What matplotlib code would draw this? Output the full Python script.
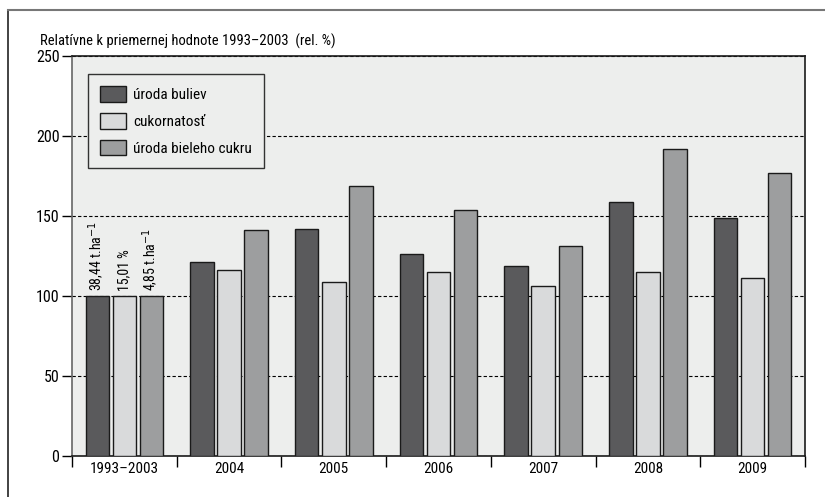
import numpy as np
import matplotlib
matplotlib.use("Agg")
from matplotlib import pyplot as plt
from matplotlib import font_manager
from matplotlib.lines import Line2D
from matplotlib.ticker import FixedLocator

# condensed sans, first one found
installed = set(f.name for f in font_manager.fontManager.ttflist)
wanted = ['Liberation Sans Narrow', 'Arial Narrow', 'Nimbus Sans Narrow', 'Roboto Condensed',
          'Archivo Narrow', 'PT Sans Narrow', 'Pragati Narrow', 'Liberation Sans']
fam = [f for f in wanted if f in installed][:1] + ['DejaVu Sans']
plt.rcParams['font.family'] = fam

years = ['1993\u20132003', '2004', '2005', '2006', '2007', '2008', '2009']
uroda_buliev = [100, 121.5, 142, 126.5, 118.5, 159, 148.5]
cukornatost = [100, 116.5, 109, 115, 106, 115, 111]
uroda_cukru = [100, 141, 169, 154, 131, 192, 177]
base_labels = ['38,44 t.ha$^{-1}$', '15,01 %', '4,85 t.ha$^{-1}$']
series_names = ['úroda buliev', 'cukornatosť', 'úroda bieleho cukru']
colors = ['#5a5a5c', '#d9dadb', '#9d9e9f']

fig = plt.figure(figsize=(8.25, 4.97), dpi=100)
ax = fig.add_axes([72/825, 41/497, 733/825, 400/497])
ax.set_facecolor('#edeeed')

x = np.arange(len(years))
w = 0.224
step = 0.258
bars = []
for i, vals in enumerate([uroda_buliev, cukornatost, uroda_cukru]):
    b = ax.bar(x + (i - 1) * step, vals, w, color=colors[i], edgecolor='#1a1a1a',
               linewidth=1.0, zorder=3, label=series_names[i])
    bars.append(b)

# labels over the base period
for i, txt in enumerate(base_labels):
    r = bars[i][0]
    ax.text(r.get_x() + r.get_width() / 2, r.get_height() + 3, txt, rotation=90,
            ha='center', va='bottom', fontsize=10, zorder=4)

ax.set_xlim(-0.5, len(years) - 0.5)
ax.set_ylim(0, 250)
ax.set_yticks([0, 50, 100, 150, 200, 250])
ax.yaxis.grid(True, linestyle=(0, (3, 2)), color='black', linewidth=0.8, zorder=1)
ax.tick_params(axis='y', length=7, width=1, labelsize=11.5, pad=2)

ax.xaxis.set_major_locator(FixedLocator(np.arange(len(years) + 1) - 0.5))
ax.set_xticklabels([])
ax.set_xticks(x, minor=True)
ax.set_xticklabels(years, minor=True)
ax.tick_params(axis='x', which='major', length=8, width=1, direction='out')
ax.tick_params(axis='x', which='minor', length=0, labelsize=11, pad=4)

for s in ['top', 'right', 'bottom']:
    ax.spines[s].set_color('#1a1a1a')
    ax.spines[s].set_linewidth(1.2)
ax.spines['left'].set_color('#666666')
ax.spines['left'].set_linewidth(1.2)

leg = ax.legend(loc='upper left', bbox_to_anchor=(16/733, 1 - 18/400), frameon=True,
                fancybox=False, edgecolor='#333333', facecolor='#edeeed', framealpha=1,
                fontsize=11, handlelength=1.7, handleheight=1.18, labelspacing=0.72,
                borderpad=0.8, handletextpad=0.46, borderaxespad=0)
leg.get_frame().set_linewidth(1.0)

fig.text(40/825, 1 - 41/497, 'Relatívne k priemernej hodnote 1993\u20132003  (rel. %)',
         fontsize=10.5, ha='left', va='center')

# outer frame
fig.add_artist(Line2D([8/825, 8/825], [0, 1 - 10/497], transform=fig.transFigure,
                      color='#222222', linewidth=1.2))
fig.add_artist(Line2D([8/825, 1], [1 - 10/497, 1 - 10/497], transform=fig.transFigure,
                      color='#777777', linewidth=1.5))

fig.savefig('out.png', dpi=100)
